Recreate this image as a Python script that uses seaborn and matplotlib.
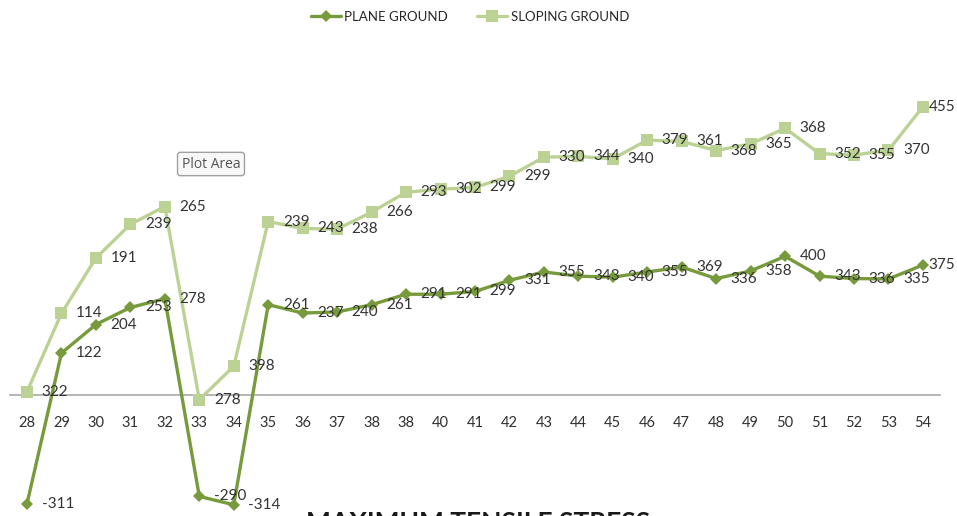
import numpy as np
import pandas as pd
import matplotlib
matplotlib.use("Agg")
import matplotlib.pyplot as plt
import seaborn as sns

# Category labels along the horizontal axis (note the repeated 38)
categories = ["28", "29", "30", "31", "32", "33", "34", "35", "36", "37", "38", "38",
              "40", "41", "42", "43", "44", "45", "46", "47", "48", "49", "50", "51",
              "52", "53", "54"]

# Series values (stacked line chart: the second series is plotted on top of the first)
plane_ground = [-311, 122, 204, 253, 278, -290, -314, 261, 237, 240, 261, 291, 291,
                299, 331, 355, 343, 340, 355, 369, 336, 358, 400, 343, 336, 335, 375]
sloping_ground = [322, 114, 191, 239, 265, 278, 398, 239, 243, 238, 266, 293, 302,
                  299, 299, 330, 344, 340, 379, 361, 368, 365, 368, 352, 355, 370, 455]

series_names = ["PLANE GROUND", "SLOPING GROUND"]
chart_title = "MAXIMUM TENSILE STRESS"
tooltip_text = "Plot Area"

PLANE_COLOR = "#779A3C"
SLOPING_COLOR = "#BCD295"
LABEL_COLOR = "#333333"

sns.set_theme(style="white")
plt.rcParams["font.family"] = ["Lato", "DejaVu Sans"]

pos = np.arange(len(categories))
plane = np.array(plane_ground)
sloping = np.array(sloping_ground)
sloping_stacked = plane + sloping

df = pd.DataFrame({"pos": pos, "plane": plane, "sloping": sloping_stacked})

fig = plt.figure(figsize=(9.57, 5.16), dpi=100)
ax = fig.add_axes([0, 0, 1, 476 / 516])

sns.lineplot(data=df, x="pos", y="sloping", ax=ax, color=SLOPING_COLOR, lw=2.4,
             marker="s", markersize=8.5, markeredgewidth=0,
             markerfacecolor=SLOPING_COLOR, label=series_names[1], zorder=3)
sns.lineplot(data=df, x="pos", y="plane", ax=ax, color=PLANE_COLOR, lw=2.4,
             marker="D", markersize=6, markeredgewidth=0,
             markerfacecolor=PLANE_COLOR, label=series_names[0], zorder=4)


def label_offset(i):
    # the last labels are pulled in so they stay inside the chart area
    return 4.0 if i == len(categories) - 1 else 10.5


# Value labels to the right of each marker
for i, (x, y, v) in enumerate(zip(pos, sloping_stacked, sloping)):
    ax.annotate(f"{v}", (x, y), xytext=(label_offset(i), 0), textcoords="offset points",
                ha="left", va="center", fontsize=11, color=LABEL_COLOR, zorder=6)
for i, (x, y, v) in enumerate(zip(pos, plane, plane)):
    ax.annotate(f"{v}", (x, y), xytext=(label_offset(i), 0), textcoords="offset points",
                ha="left", va="center", fontsize=11, color=LABEL_COLOR, zorder=6)

ax.set_xlim(-0.7835, 26.988)
ax.set_ylim(-346.3, 1021.6)

# Category axis crossing at zero
for side in ["left", "right", "top"]:
    ax.spines[side].set_visible(False)
ax.spines["bottom"].set_position(("data", 0))
ax.spines["bottom"].set_bounds(-0.5, len(categories) - 0.5)
ax.spines["bottom"].set_color("#A8A8A8")
ax.spines["bottom"].set_linewidth(1.2)
ax.spines["bottom"].set_zorder(2)

ax.set_xticks(pos)
ax.set_xticklabels(categories)
ax.tick_params(axis="x", length=0, pad=14.5, labelsize=10.5, labelcolor="#303030")
ax.set_yticks([])
ax.set_xlabel("")
ax.set_ylabel("")
ax.grid(False)

handles, labels = ax.get_legend_handles_labels()
order = [labels.index(n) for n in series_names]
ax.get_legend().remove()
fig.legend([handles[i] for i in order], [labels[i] for i in order],
           loc="center", bbox_to_anchor=(0.491, 0.967), ncol=2, frameon=False,
           fontsize=9.5, handlelength=2.3, handletextpad=0.25, columnspacing=2.2,
           labelcolor="#262626")

# Hover tooltip over the plot area
fig.text(211 / 957, 1 - 164 / 516, tooltip_text, ha="center", va="center",
         fontsize=10, color="#555555", family=["Open Sans", "DejaVu Sans"],
         bbox=dict(boxstyle="round,pad=0.3,rounding_size=0.2", fc="#F8F8F8",
                   ec="#A0A0A0", lw=1))

# Chart title sits below the plot
fig.text(0.5, 1 - 511 / 516, chart_title, ha="center", va="top",
         fontsize=19, fontweight="bold", color="#1A1A1A")

fig.savefig("out.png", dpi=100)
